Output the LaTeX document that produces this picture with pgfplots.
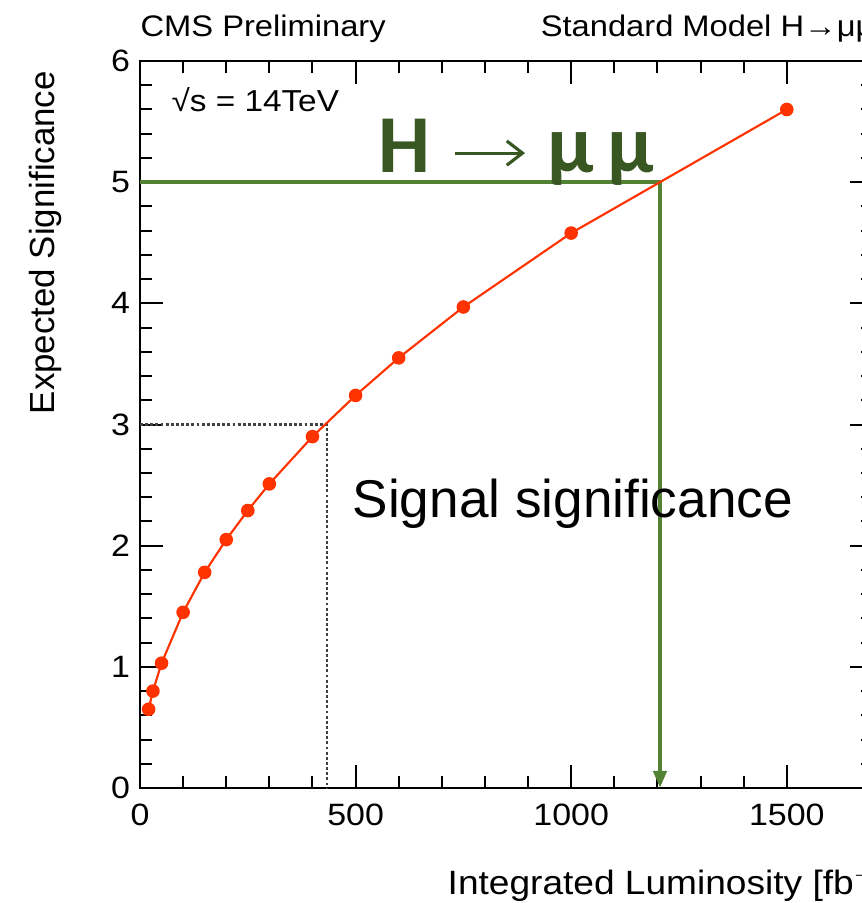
\documentclass[border=0pt]{standalone}
\usepackage{fontspec}
\setmainfont{Liberation Sans}
\newfontfamily\rootfont[FakeStretch=1.1]{Liberation Sans}
\newfontfamily\carlito{Carlito}
\usepackage{pgfplots}
\pgfplotsset{compat=1.18}
\usetikzlibrary{calc,arrows.meta}

\definecolor{rootred}{RGB}{255,51,0}
\definecolor{linegreen}{RGB}{84,130,53}
\definecolor{textgreen}{RGB}{56,87,35}

% expected significance vs integrated luminosity
\pgfplotstableread{
lumi signif
20   0.65
30   0.80
50   1.03
100  1.45
150  1.78
200  2.05
250  2.29
300  2.51
400  2.90
500  3.24
600  3.55
750  3.97
1000 4.58
1500 5.60
}\signif

\begin{document}
\begin{tikzpicture}
\begin{axis}[
    name=ax,
    scale only axis,
    width=256.55pt, height=254.45pt,
    xmin=0, xmax=1700, ymin=0, ymax=6,
    xtick={0,500,1000,1500}, ytick={0,1,...,6},
    minor x tick num=4, minor y tick num=4,
    tick align=inside,
    major tick length=8.2pt, minor tick length=4.3pt,
    axis line style={line width=1pt},
    every tick/.style={black, line width=0.7pt},
    tick label style={font=\rootfont\fontsize{10.8}{12}\selectfont},
    xticklabel style={yshift=-2pt},
    /pgf/number format/assume math mode=true,
    /pgf/number format/1000 sep={},
    xlabel={Integrated Luminosity [fb$^{-1}$]},
    ylabel={Expected Significance},
    xlabel style={font=\rootfont\fontsize{11.8}{14}\selectfont, inner sep=0pt,
        at={(rel axis cs:0.419,0)}, anchor=base west, yshift=-37.1pt},
    ylabel style={font=\fontsize{12.2}{14}\selectfont,
        at={(rel axis cs:-0.1296,1)}, anchor=east},
    clip=false,
]
% dotted guide at 3 sigma
\addplot[black!75, line width=0.8pt, dash pattern=on 1pt off 0.8pt]
    coordinates {(0,3) (434,3) (434,0)};
% green guide at 5 sigma
\addplot[linegreen, line width=1.6pt, arrows={-Triangle[length=6pt,width=4.6pt]}]
    coordinates {(0,5) (1206,5) (1206,0)};
\addplot[rootred, line width=0.75pt, mark=*, mark size=2pt,
    mark options={fill=rootred, draw=rootred}]
    table[x=lumi, y=signif] {\signif};

\node[anchor=base west, inner sep=0, font=\rootfont\fontsize{10.6}{12}\selectfont]
    at (axis cs:72,5.58) {√s = 14TeV};
\node[anchor=base west, inner sep=0, yshift=8.6pt, font=\rootfont\fontsize{10.4}{12}\selectfont]
    at (rel axis cs:0,1) {CMS Preliminary};
\node[anchor=base west, inner sep=0, yshift=8.6pt, font=\rootfont\fontsize{10.4}{12}\selectfont]
    at (rel axis cs:0.546,1) {Standard Model H→μμ};

% annotations
\node[anchor=base west, inner sep=0, text=textgreen, font=\carlito\bfseries\fontsize{28.8}{30}\selectfont]
    at (axis cs:552,5.08) {H};
\addplot[textgreen, line width=1.1pt, arrows={-Straight Barb[length=5.5pt,width=8.5pt]}]
    coordinates {(731,5.24) (893,5.24)};
\node[anchor=base, inner sep=0, text=textgreen, font=\carlito\bfseries\fontsize{28.8}{30}\selectfont]
    at (axis cs:1000,5.08) {μ};
\node[anchor=base, inner sep=0, text=textgreen, font=\carlito\bfseries\fontsize{28.8}{30}\selectfont]
    at (axis cs:1139,5.08) {μ};
\node[anchor=base west, inner sep=0, font=\fontsize{18.6}{20}\selectfont]
    at (axis cs:492,2.23) {Signal significance};
\end{axis}
\pgfresetboundingbox
\path[use as bounding box] ($(ax.south west)+(-49pt,-40.25pt)$)
    rectangle ($(ax.south west)+(252.7pt,275.8pt)$);
\end{tikzpicture}
\end{document}
